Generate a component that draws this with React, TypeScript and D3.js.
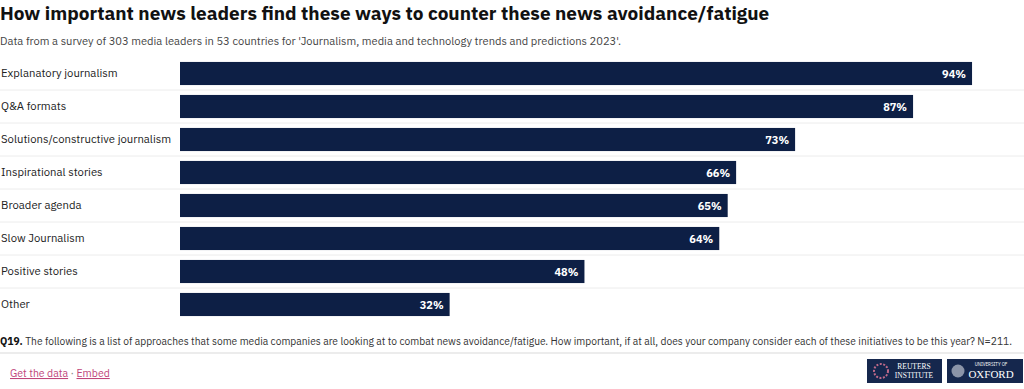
import React from "react";
import * as d3 from "d3";

const categories = [
  "Explanatory journalism",
  "Q&A formats",
  "Solutions/constructive journalism",
  "Inspirational stories",
  "Broader agenda",
  "Slow Journalism",
  "Positive stories",
  "Other",
];
const values = [94, 87, 73, 66, 65, 64, 48, 32];

const title = "How important news leaders find these ways to counter these news avoidance/fatigue";
const subtitle = "Data from a survey of 303 media leaders in 53 countries for 'Journalism, media and technology trends and predictions 2023'.";
const noteBold = "Q19.";
const noteText = " The following is a list of approaches that some media companies are looking at to combat news avoidance/fatigue. How important, if at all, does your company consider each of these initiatives to be this year? N=211.";

const W = 1024;
const H = 389;
const FONT = "'IBM Plex Sans', 'Noto Sans', 'Open Sans', sans-serif";

export default function App() {
  const x = d3.scaleLinear().domain([0, 100]).range([180, 1022.6]);
  const y = d3.scaleBand<string>().domain(categories).range([57, 321]).paddingInner(0.3).paddingOuter(0.15);
  const step = y.step();
  const navy = "#0d1f45";
  return (
    <div style={{ position: "absolute", left: 0, top: 0 }}>
      <svg width={W} height={H} style={{ display: "block", fontFamily: FONT }}>
        <rect width={W} height={H} fill="#fff" />
        <text x={0} y={20} fontSize={19} fontWeight={700} fill="#111">{title}</text>
        <text x={0} y={45} fontSize={11} fill="#444" textLength={621} lengthAdjust="spacingAndGlyphs">{subtitle}</text>
        {categories.map((c, i) => {
          const yy = y(c)!;
          const bh = y.bandwidth();
          const sepY = yy + bh + (step - bh) / 2;
          return (
            <g key={c}>
              {i < categories.length - 1 && (
                <line x1={0} x2={W} y1={sepY} y2={sepY} stroke="#ececec" strokeWidth={1} />
              )}
              <text x={1} y={yy + bh / 2 + 3.5} fontSize={11.3} fill="#222">{c}</text>
              <rect x={x(0)} y={yy} width={x(values[i]) - x(0)} height={bh} fill={navy} />
              <text x={x(values[i]) - 6} y={yy + bh / 2 + 4} fontSize={11} fontWeight={700} fill="#fff" textAnchor="end">
                {values[i]}%
              </text>
            </g>
          );
        })}
        <text x={0} y={345} fontSize={10.2} fill="#333" textLength={1012} lengthAdjust="spacingAndGlyphs">
          <tspan fontWeight={700} fill="#111">{noteBold}</tspan>
          {noteText}
        </text>
        <line x1={0} x2={W} y1={353} y2={353} stroke="#e6e6e6" strokeWidth={1.5} />
        <text x={10} y={377} fontSize={10.5} fill="#c0457a">
          <tspan textDecoration="underline">Get the data</tspan>
          <tspan fill="#888"> · </tspan>
          <tspan textDecoration="underline">Embed</tspan>
        </text>
        <g>
          <rect x={867} y={359} width={75} height={24} fill="#15274d" />
          <circle cx={881} cy={371} r={7} fill="none" stroke="#c06a8a" strokeWidth={2} strokeDasharray="2 1.5" />
          <text x={914} y={369} fontSize={7.5} fill="#fff" textAnchor="middle" fontFamily="'Liberation Serif', serif">REUTERS</text>
          <text x={914} y={378} fontSize={7.5} fill="#fff" textAnchor="middle" fontFamily="'Liberation Serif', serif">INSTITUTE</text>
          <rect x={947} y={359} width={76} height={24} fill="#15274d" />
          <circle cx={958} cy={371} r={6.5} fill="#8b94a8" />
          <text x={991} y={366} fontSize={4.5} fill="#fff" textAnchor="middle">UNIVERSITY OF</text>
          <text x={991} y={378} fontSize={11} fill="#fff" textAnchor="middle" fontFamily="'Liberation Serif', serif">OXFORD</text>
        </g>
      </svg>
    </div>
  );
}
